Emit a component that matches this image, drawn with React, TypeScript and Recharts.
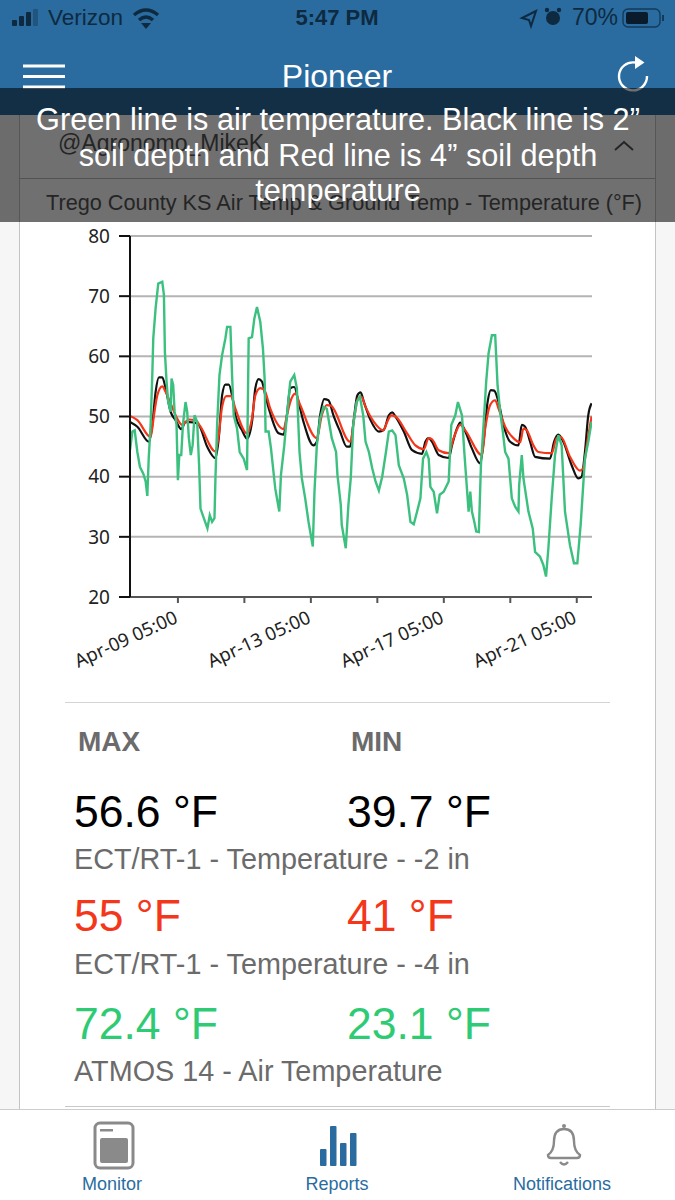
import React from "react";
import { CartesianGrid, Line, LineChart, XAxis, YAxis } from "recharts";

// hours are counted from Apr-09 05:00
const airHours = [-34.6,-32.9,-31.2,-29.3,-27.4,-25,-23.3,-22.1,-21.1,-19.7,-18.5,-17.8,-16.1,-14.2,-11.3,-10.1,-9.4,-8.2,-7,-5.3,-4.6,-3.4,-2.4,-1,0,1,2.4,3.6,5.5,6.7,7.9,9.3,10.6,12,13.9,15.3,16.3,18.7,21.3,23,24.7,26.4,27.1,28.3,30,31.9,34.3,35.5,37.9,39.1,40.3,42.7,44.6,47.5,49.9,50.6,51.1,53.5,55.2,57.1,59.5,61.4,62.6,63.3,65.5,67.2,70.3,73.2,74.4,76.8,78.7,81.1,84,85.9,87.8,89.5,91.9,94.3,97.4,98.6,100.3,102.7,105.1,107.5,111.1,114.2,115.2,117.6,118.3,121.2,123.1,124.8,126.6,129,131.4,133.8,135.5,137.9,140.3,142.7,145.1,147.5,149.9,152.3,154.7,157.1,159.5,163.1,165.5,167.9,170.3,172.7,175.1,177,179.4,181.1,182.3,184.7,187.1,189,191.9,195.5,197.4,200.3,202.2,205.1,206.8,208.7,209.9,211.1,212.3,214,215.4,217.3,218.8,220.7,222.6,224.3,226.7,229.1,230.8,232.7,234.6,236.3,238.7,241.1,243.5,245.9,246.4,248.3,249.5,253.1,256.2,257.9,261.5,263.9,265.8,267.5,269.9,272.3,274.7,277.1,279.5,283.1,286,288.4,290.8,293.9,296.3,298.7];
const airTemp = [44.4,47.5,47.7,44.1,41.6,40.5,39.2,36.8,43,48.6,56.9,63,68,72.1,72.4,70.2,60.7,55.8,52.4,50.8,56.3,55.2,50.8,48.6,39.4,43.6,43.6,48.6,52.4,50.8,46.4,43.6,45.2,50.2,49.1,41.9,34.7,33.1,31.4,33.6,32.5,33.1,39.7,48.6,56.9,60.2,63,64.9,64.9,56.9,50.2,48,44.1,43,41.1,54.1,63,63.2,66.3,68.2,65.7,61.3,56.3,47.5,47.5,44.7,38,34.2,40.3,45.2,50.2,55.8,56.9,54.7,44.1,39.7,36.4,32.5,28.4,37.5,45.2,49.7,51.6,51.3,46.4,44.1,40.3,35.3,32,28.1,35.3,39.7,48.6,52.4,53.3,50.2,45.8,44.1,41.4,39.2,37.7,40,43.6,47.5,47.7,46.9,41.9,39.7,37,32.5,32.1,34.2,36.4,43,44.1,43,38.3,37.5,33.9,37,37.5,39.2,48.6,50.2,52.4,50.2,44.1,38,34.2,37.5,34.2,32.5,30.9,30.8,41.9,48.6,55.8,60.5,63.5,63.5,55.2,50.8,47.5,44.1,43,36.4,35,34.2,38.6,43.6,39.7,34.2,31.4,27.5,26.7,25.3,23.4,28.1,36.4,43.6,46.9,45.2,34.2,28.6,25.6,25.6,32,43,45.8,49.1];

const soil2Hours = [-34.6,-29.3,-20.9,-18.5,-16.1,-13.7,-11.3,-8.9,-5.3,-1.7,2.4,5.5,11.5,15.1,21.1,27.1,29.5,31.9,34.3,36.7,39.1,41.5,46.3,49.9,53.5,55.9,58.3,60.7,63.1,66.7,72.7,76.3,78.7,81.1,84,87.1,90.7,97.9,100.3,102.7,105.6,108.7,112.3,117.1,121.9,124.3,127.1,129.5,131.9,134.3,139.1,145.1,148.7,152.3,154.7,157.1,163.1,169.1,176.3,178.7,181.1,183.5,188.3,195.5,197.9,201.5,203.9,207.5,212.3,218.3,220.7,223.6,226,228.4,231.5,235.1,239.9,245.9,248.3,250.7,254.3,257.9,268.7,271.6,274.7,278.3,284.3,289.1,291.5,293.9,296.3,298.7];
const soil2Temp = [49.1,48.3,45.8,48.6,54.1,56.5,56.5,54.7,50.8,49.4,47.9,49.1,49,48.6,45,43.1,46.4,53.5,55.3,55.3,53.5,50.2,47.7,46.3,49.1,54.7,56.2,55.8,53.5,50.5,47.2,47,50.2,54.7,54.9,52.4,49.1,45.2,45.8,50.2,52.9,52.7,50.2,47.5,45,45,49.7,53.5,54,52.4,49.4,47.5,47.8,50.2,50.7,50,47.5,44.4,43.8,45.8,46.4,45.8,43.6,43.1,45.2,48,49,47.5,44.7,42.2,45.8,52.4,54.4,54.3,52.4,48.6,45.8,45.2,48.6,48.3,45.8,43.3,43,45.8,47,45.8,41.9,39.7,40,44.1,50.2,52.2];

const soil4Hours = [-34.6,-29.3,-19.7,-17.3,-14.9,-11.3,-8.9,-5.3,-1.7,3.1,7.9,12.7,16.3,27.1,29.5,31.9,35,38.4,41.5,49.9,53.5,55.9,59.5,62.4,66.7,76.3,78.7,81.1,84.7,88.3,100.3,103.9,107.5,110.4,124.3,127.6,130,132.4,135.5,141.5,148.2,151.1,154,157.1,165.5,171.5,177.5,181.1,183.5,188.3,195.5,199.1,203.9,207.5,219.5,221.9,225.5,229.1,231.5,236.3,242.3,247.1,249.5,251.9,256.7,260.3,269.9,273.5,276.4,283.1,290.3,292.7,295.6,298.7];
const soil4Temp = [50.1,49.4,46.6,50.2,53.5,55,54.1,52.2,50.2,48.6,49.5,49.4,48.3,44.2,46.9,51.6,53.4,53.4,51.3,47.2,49.7,53.5,54.7,54.4,51.3,47.9,50.2,52.4,53.8,51.9,46.4,50.2,51.9,51.8,45.8,50.2,53,53.3,51.6,49.1,47.7,49.1,50.2,50,47.2,45.2,44.6,46.4,46.2,44.4,43.9,46.4,48.6,47.7,43.6,48,51.9,52.7,51.3,48.3,46.4,45.7,48,47.7,45.2,44.1,43.9,46.4,46.6,43.3,41,41.4,45.8,50];

const timeTicks = [0, 48, 96, 144, 192, 240, 288];
const timeLabels = ["Apr-09 05:00", "", "Apr-13 05:00", "", "Apr-17 05:00", "", "Apr-21 05:00"];
const tempTicks = [20, 30, 40, 50, 60, 70, 80];

const zip = (hours: number[], temps: number[]) =>
  hours.map((h, i) => ({ h, t: temps[i] }));

const FONT = '"Liberation Sans", Arial, sans-serif';
const AXIS_FONT = '"Noto Sans", "Open Sans", sans-serif';
const BLUE = "#2a6c9f";
const GREY_TEXT = "#6b6b6b";
const GREEN = "#2fcb74";
const RED = "#f4361a";

function Txt({ x, y, size, color, bold, anchor, children }: any) {
  const shift = anchor === "middle" ? "translateX(-50%)" : "none";
  return (
    <div
      style={{
        position: "absolute",
        left: x,
        top: y - size * 0.9,
        fontSize: size,
        lineHeight: 1,
        color,
        fontWeight: bold ? 700 : 400,
        fontFamily: FONT,
        whiteSpace: "nowrap",
        transform: shift,
      }}
    >
      {children}
    </div>
  );
}

function TimeTick({ x, y, payload }: any) {
  const label = timeLabels[timeTicks.indexOf(payload.value)];
  return (
    <text
      x={x + 1}
      y={y + 17}
      fontSize={18.6}
      fontFamily={AXIS_FONT}
      fill="#222"
      textAnchor="end"
      transform={`rotate(-24.5 ${x + 1} ${y + 17})`}
    >
      {label}
    </text>
  );
}

function StatusBar() {
  return (
    <svg width={675} height={40} style={{ position: "absolute", left: 0, top: 0 }}>
      <g fill="#0e2a40">
        <rect x={12} y={20} width={5} height={6} rx={1} />
        <rect x={19} y={16} width={5} height={10} rx={1} />
        <rect x={26} y={12} width={5} height={14} rx={1} />
      </g>
      <rect x={33} y={9} width={5} height={17} rx={1} fill="#21557e" />
      <g fill="none" stroke="#0e2a40" strokeWidth={3.4}>
        <path d="M134 15 Q146 5 158 15" />
        <path d="M139 20 Q146 14 153 20" />
      </g>
      <path d="M141 23 L151 23 L146 29 Z" fill="#0e2a40" />
      <path d="M536 11 L522 18 L529 20 L531 26 Z" fill="none" stroke="#0e2a40" strokeWidth={2} />
      <circle cx={553} cy={18} r={7} fill="#0e2a40" />
      <circle cx={547} cy={10} r={2.2} fill="#0e2a40" />
      <circle cx={559} cy={10} r={2.2} fill="#0e2a40" />
      <rect x={623} y={9} width={37} height={18} rx={5} fill="none" stroke="#123a5a" strokeWidth={1.4} />
      <rect x={626} y={12} width={22} height={12} rx={2} fill="#0a1c2c" />
      <rect x={662} y={15} width={2} height={6} fill="#123a5a" />
    </svg>
  );
}

function NavIcons() {
  return (
    <svg width={675} height={60} style={{ position: "absolute", left: 0, top: 50 }}>
      <g stroke="#fff" strokeWidth={3}>
        <line x1={23} x2={65} y1={16} y2={16} />
        <line x1={23} x2={65} y1={26.5} y2={26.5} />
        <line x1={23} x2={65} y1={37} y2={37} />
      </g>
      <path d="M635 12.5 A14 14 0 1 0 647 26" fill="none" stroke="#fff" strokeWidth={2.4} />
      <path d="M635 6 L644.5 12.5 L635 19 Z" fill="#fff" />
    </svg>
  );
}

function TabIcons() {
  return (
    <svg width={675} height={70} style={{ position: "absolute", left: 0, top: 1115 }}>
      <rect x={95} y={8} width={38} height={45} rx={5} fill="none" stroke="#8a8a8a" strokeWidth={3} />
      <rect x={100} y={23} width={28} height={25} rx={2} fill="#8a8a8a" />
      <rect x={100} y={14} width={13} height={2.5} fill="#8a8a8a" />
      <g fill={BLUE}>
        <rect x={320} y={34} width={6.5} height={17} rx={1} />
        <rect x={330} y={11} width={6.5} height={40} rx={1} />
        <rect x={340} y={28} width={6.5} height={23} rx={1} />
        <rect x={350} y={18} width={6.5} height={33} rx={1} />
      </g>
      <g fill="none" stroke="#8a8a8a" strokeWidth={2.4}>
        <path d="M548 40 Q554 36 554 26 Q554 14 564 14 Q574 14 574 26 Q574 36 580 40 Q580 43 577 43 L551 43 Q548 43 548 40 Z" />
        <path d="M560 47 Q564 52 568 47" />
      </g>
      <circle cx={564} cy={11} r={2} fill="#8a8a8a" />
    </svg>
  );
}

export default function App() {
  return (
    <div
      style={{
        position: "absolute",
        left: 0,
        top: 0,
        width: 675,
        height: 1200,
        overflow: "hidden",
        background: "#f6f6f6",
        fontFamily: FONT,
      }}
    >
      {/* white card */}
      <div
        style={{
          position: "absolute",
          left: 19,
          top: 100,
          width: 635,
          height: 1020,
          background: "#fff",
          border: "1px solid #c4c4c4",
          borderRadius: 6,
        }}
      />

      {/* card header, sits under the toast */}
      <Txt x={58} y={153} size={23} color="#555">@Agronomo_MikeK</Txt>
      <svg width={40} height={20} style={{ position: "absolute", left: 606, top: 136 }}>
        <path d="M9 14 L18 6 L27 14" fill="none" stroke="#555" strokeWidth={2} />
      </svg>
      <div style={{ position: "absolute", left: 19, top: 178, width: 636, height: 1, background: "#bbb" }} />
      <Txt x={46} y={212} size={21.7} color="#555">
        Trego County KS Air Temp &amp; Ground Temp - Temperature (°F)
      </Txt>

      {/* app bar */}
      <div style={{ position: "absolute", left: 0, top: 0, width: 675, height: 115, background: BLUE }} />
      <StatusBar />
      <Txt x={48} y={27} size={22.5} color="#0e2a40">Verizon</Txt>
      <Txt x={337} y={27} size={22} color="#0e2a40" bold anchor="middle">5:47 PM</Txt>
      <Txt x={572} y={27} size={23} color="#0e2a40">70%</Txt>
      <NavIcons />
      <Txt x={337} y={89} size={32} color="#fff" anchor="middle">Pioneer</Txt>

      <div style={{ position: "absolute", left: 0, top: 0 }}>
        <LineChart
          width={675}
          height={470}
          margin={{ top: 16, right: 83, bottom: 3, left: 70 }}
          style={{ position: "absolute", left: 0, top: 220 }}
        >
          <CartesianGrid horizontal vertical={false} stroke="#b4b4b4" strokeWidth={2} />
          <XAxis
            type="number"
            dataKey="h"
            domain={[-34.6, 299]}
            ticks={timeTicks}
            interval={0}
            allowDataOverflow
            height={90}
            stroke="#555"
            strokeWidth={2}
            tickSize={6}
            tick={<TimeTick />}
          />
          <YAxis
            type="number"
            domain={[20, 80]}
            ticks={tempTicks}
            interval={0}
            width={60}
            stroke="#111"
            strokeWidth={2}
            tickSize={11}
            tickMargin={9}
            tick={{ fontSize: 19, fontFamily: AXIS_FONT, fill: "#222" }}
          />
          <Line data={zip(soil2Hours, soil2Temp)} dataKey="t" type="monotoneX" stroke="#111" strokeWidth={2.2} dot={false} isAnimationActive={false} />
          <Line data={zip(soil4Hours, soil4Temp)} dataKey="t" type="monotoneX" stroke={RED} strokeWidth={2.2} dot={false} isAnimationActive={false} />
          <Line data={zip(airHours, airTemp)} dataKey="t" type="linear" stroke="#3cc07f" strokeWidth={2.4} dot={false} isAnimationActive={false} />
        </LineChart>
      </div>

      {/* stats */}
      <div style={{ position: "absolute", left: 65, top: 702, width: 545, height: 1, background: "#d4d4d4" }} />
      <Txt x={78} y={753} size={28} color={GREY_TEXT} bold>MAX</Txt>
      <Txt x={351} y={753} size={28} color={GREY_TEXT} bold>MIN</Txt>

      <Txt x={74} y={830} size={44.5} color="#000">56.6 °F</Txt>
      <Txt x={347} y={830} size={44.5} color="#000">39.7 °F</Txt>
      <Txt x={74} y={871} size={28.8} color={GREY_TEXT}>ECT/RT-1 - Temperature - -2 in</Txt>

      <Txt x={74} y={934} size={44.5} color={RED}>55 °F</Txt>
      <Txt x={347} y={934} size={44.5} color={RED}>41 °F</Txt>
      <Txt x={74} y={976} size={28.8} color={GREY_TEXT}>ECT/RT-1 - Temperature - -4 in</Txt>

      <Txt x={74} y={1042} size={44.5} color={GREEN}>72.4 °F</Txt>
      <Txt x={347} y={1042} size={44.5} color={GREEN}>23.1 °F</Txt>
      <Txt x={74} y={1083} size={28.8} color={GREY_TEXT}>ATMOS 14 - Air Temperature</Txt>
      <div style={{ position: "absolute", left: 65, top: 1106, width: 545, height: 1, background: "#c8c8c8" }} />

      {/* tab bar */}
      <div style={{ position: "absolute", left: 0, top: 1109, width: 675, height: 91, background: "#fff", borderTop: "1px solid #ccc" }} />
      <TabIcons />
      <Txt x={112} y={1191} size={18} color={BLUE} anchor="middle">Monitor</Txt>
      <Txt x={337} y={1191} size={18} color={BLUE} anchor="middle">Reports</Txt>
      <Txt x={562} y={1191} size={18} color={BLUE} anchor="middle">Notifications</Txt>

      {/* toast */}
      <div style={{ position: "absolute", left: 0, top: 88, width: 675, height: 134, background: "rgba(0,0,0,0.56)" }} />
      <Txt x={338} y={133} size={30.7} color="#fff" anchor="middle">Green line is air temperature. Black line is 2”</Txt>
      <Txt x={338} y={169} size={30.7} color="#fff" anchor="middle">soil depth and Red line is 4” soil depth</Txt>
      <Txt x={338} y={204} size={30.7} color="#fff" anchor="middle">temperature</Txt>
    </div>
  );
}
